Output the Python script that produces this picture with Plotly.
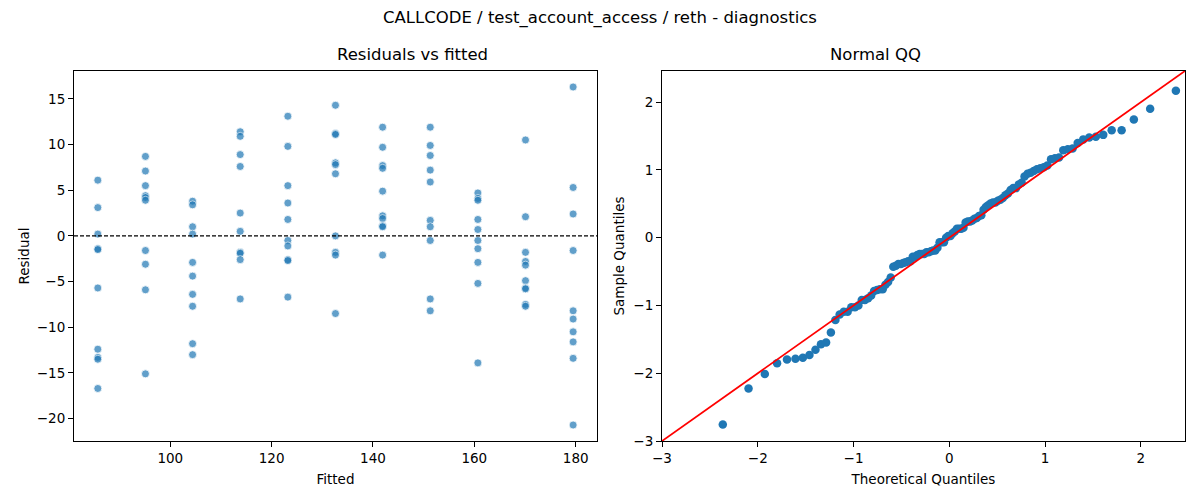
import statistics
import plotly.graph_objects as pgo

# fitted value of each group, and the residuals read for that group
fitted_levels = [85.7, 95.1, 104.4, 113.8, 123.2, 132.6, 141.9, 151.3, 160.7, 170.1, 179.5]
residuals_by_level = [
    [6.1, 3.1, 0.2, -1.4, -1.5, -5.7, -12.4, -13.3, -13.5, -16.7],
    [8.7, 7.1, 5.5, 4.4, 4.2, 3.9, -1.6, -3.1, -5.9, -15.1],
    [3.8, 3.4, 1.0, 0.2, -2.9, -4.4, -6.4, -7.7, -11.8, -13.0],
    [11.4, 10.9, 8.9, 7.6, 2.5, 0.5, -1.8, -1.9, -2.6, -6.9],
    [13.1, 9.8, 5.5, 3.6, 1.8, -0.5, -1.1, -2.6, -2.7, -6.7],
    [14.3, 11.2, 11.1, 8.0, 7.8, 6.8, 0.0, -1.8, -2.1, -8.5],
    [11.9, 9.7, 7.7, 7.4, 4.9, 2.2, 1.9, 1.1, 1.0, -2.1],
    [11.9, 9.9, 8.8, 7.2, 5.9, 1.7, 1.0, -0.5, -6.9, -8.2],
    [4.7, 4.1, 3.9, 1.8, 0.7, -0.5, -1.4, -2.9, -5.2, -13.9],
    [10.5, 2.1, -1.8, -2.8, -3.2, -4.9, -5.7, -5.8, -7.5, -7.7],
    [16.3, 5.3, 2.4, -1.6, -8.2, -9.1, -10.5, -11.6, -13.4, -20.7],
]

fitted = []
residual = []
for lvl, grp in zip(fitted_levels, residuals_by_level):
    for r in grp:
        fitted.append(lvl)
        residual.append(r)

# normal QQ: standardised residuals against normal quantiles i/(n+1)
n = len(residual)
mu = statistics.mean(residual)
sd = statistics.pstdev(residual)
sample_q = sorted((r - mu) / sd for r in residual)
nd = statistics.NormalDist()
theo_q = [nd.inv_cdf(i / (n + 1)) for i in range(1, n + 1)]
qq_range = [-3, 2.46]

blue = "#1f77b4"
font = "DejaVu Sans"

fig = pgo.Figure()
fig.add_trace(pgo.Scatter(x=fitted, y=residual, mode="markers", xaxis="x", yaxis="y",
                          marker=dict(color=blue, size=8, opacity=0.7,
                                      line=dict(color="white", width=0.8)),
                          showlegend=False))
fig.add_trace(pgo.Scatter(x=theo_q, y=sample_q, mode="markers", xaxis="x2", yaxis="y2",
                          marker=dict(color=blue, size=8.5), showlegend=False))
fig.add_trace(pgo.Scatter(x=qq_range, y=qq_range, mode="lines", xaxis="x2", yaxis="y2",
                          line=dict(color="red", width=1.8), showlegend=False))

fig.add_shape(type="line", xref="x domain", yref="y", x0=0, x1=1, y0=0, y1=0,
              line=dict(color="black", width=1.1, dash="4px,2px"))

axis_style = dict(showline=True, mirror=True, linecolor="black", linewidth=1.1,
                  ticks="outside", ticklen=5, tickcolor="black", showgrid=False,
                  zeroline=False, automargin=False,
                  tickfont=dict(size=13.5, color="black"))
title_font = dict(size=13.5, color="black")

# page body adds 8px, so domains are shifted to land where the reference has them
fig.update_layout(
    width=1200, height=500,
    margin=dict(l=0, r=0, t=0, b=0),
    plot_bgcolor="white", paper_bgcolor="white",
    font=dict(family=font, color="black", size=13.5),
    xaxis=dict(domain=[0.055, 0.4908], range=[81.0, 184.2], dtick=20, anchor="y",
               title=dict(text="Fitted", standoff=9, font=title_font), **axis_style),
    yaxis=dict(domain=[0.134, 0.874], range=[-22.45, 18.05], dtick=5, anchor="x",
               title=dict(text="Residual", standoff=4, font=title_font), **axis_style),
    xaxis2=dict(domain=[0.545, 0.9808], range=qq_range, dtick=1, anchor="y2",
                title=dict(text="Theoretical Quantiles", standoff=9, font=title_font), **axis_style),
    yaxis2=dict(domain=[0.134, 0.874], range=qq_range, dtick=1, anchor="x2",
                title=dict(text="Sample Quantiles", standoff=5, font=title_font), **axis_style),
    annotations=[
        dict(text="CALLCODE / test_account_access / reth - diagnostics", x=0.4933, y=0.98,
             xref="paper", yref="paper", yanchor="middle", showarrow=False,
             font=dict(size=16.5)),
        dict(text="Residuals vs fitted", x=0.2729, y=0.874, xref="paper", yref="paper",
             yanchor="bottom", yshift=5, showarrow=False, font=dict(size=16.5)),
        dict(text="Normal QQ", x=0.7629, y=0.874, xref="paper", yref="paper",
             yanchor="bottom", yshift=5, showarrow=False, font=dict(size=16.5)),
    ],
)

fig.write_html("out.html")
